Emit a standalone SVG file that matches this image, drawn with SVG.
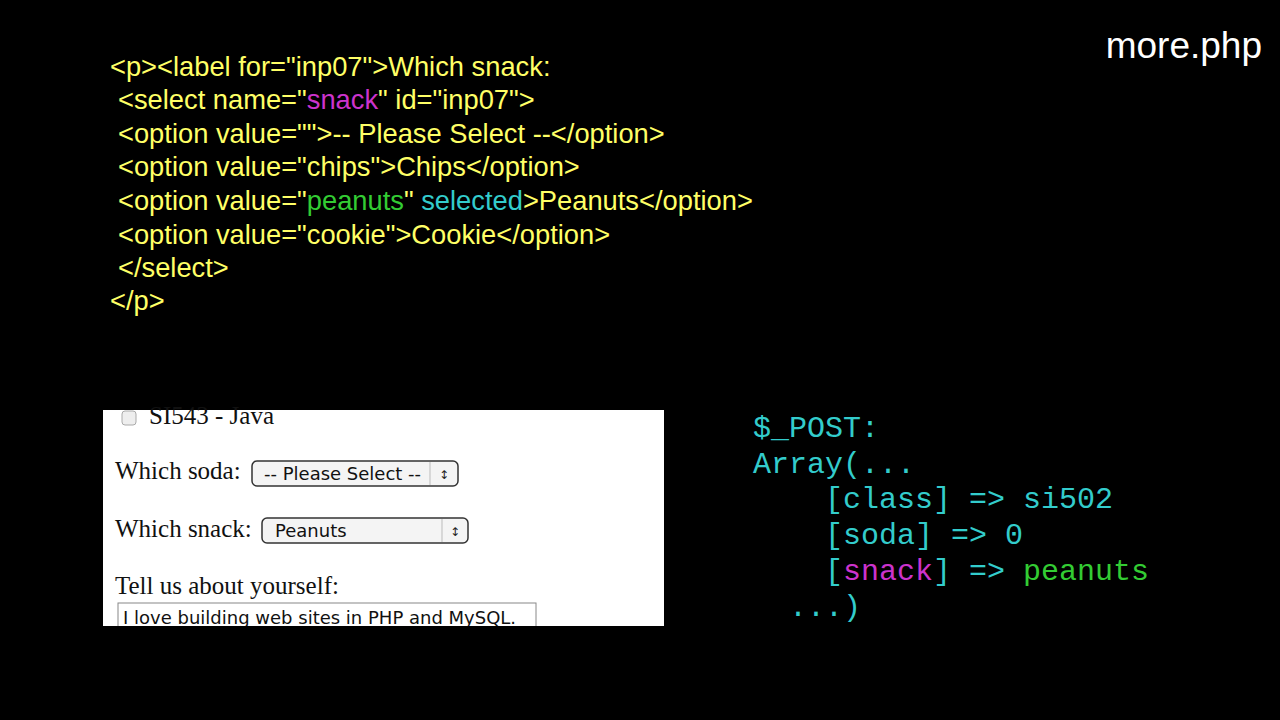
<svg xmlns="http://www.w3.org/2000/svg" width="1280" height="720" viewBox="0 0 1280 720">
<style>
.c{font-family:"Liberation Sans",Arial,sans-serif;font-size:27.3px;fill:#ffff66}
.m{fill:#cc33cc}.g{fill:#33cc33}.cy{fill:#33cccc}
.p{font-family:"Liberation Mono","Courier New",monospace;font-size:30px;fill:#33cccc}
.s{font-family:"Liberation Serif","Times New Roman",serif;font-size:25px;fill:#111}
.u{font-family:"DejaVu Sans","Liberation Sans",sans-serif;font-size:18px;fill:#111}
</style>
<rect width="1280" height="720" fill="#000"/>
<text x="1262" y="58" text-anchor="end" font-family="Liberation Sans,Arial,sans-serif" font-size="37" fill="#fff">more.php</text>
<g id="html">
<text class="c" x="110" y="76">&lt;p&gt;&lt;label for="inp07"&gt;Which snack:</text>
<text class="c" x="118" y="109">&lt;select name="<tspan class="m">snack</tspan>" id="inp07"&gt;</text>
<text class="c" x="118" y="143">&lt;option value=""&gt;-- Please Select --&lt;/option&gt;</text>
<text class="c" x="118" y="176">&lt;option value="chips"&gt;Chips&lt;/option&gt;</text>
<text class="c" x="118" y="210">&lt;option value="<tspan class="g">peanuts</tspan>" <tspan class="cy">selected</tspan>&gt;Peanuts&lt;/option&gt;</text>
<text class="c" x="118" y="244">&lt;option value="cookie"&gt;Cookie&lt;/option&gt;</text>
<text class="c" x="118" y="277">&lt;/select&gt;</text>
<text class="c" x="110" y="310">&lt;/p&gt;</text>
</g>
<g id="screenshot">
<rect x="103" y="410" width="561" height="216" fill="#fff"/>
<rect x="122" y="411" width="14" height="14" rx="3" fill="#eee" stroke="#aaa"/>
<text class="s" x="149" y="424">SI543 - Java</text>
<text class="s" x="115" y="479">Which soda:</text>
<rect x="252" y="461" width="206" height="25" rx="5" fill="#f4f4f4" stroke="#333" stroke-width="1.5"/>
<line x1="430" y1="462" x2="430" y2="485" stroke="#bbb"/>
<text class="u" x="264" y="480">-- Please Select --</text>
<text x="444" y="479" text-anchor="middle" font-family="DejaVu Sans,sans-serif" font-size="12" fill="#222">↕</text>
<text class="s" x="115" y="537">Which snack:</text>
<rect x="262" y="518" width="206" height="25" rx="5" fill="#f4f4f4" stroke="#333" stroke-width="1.5"/>
<line x1="442" y1="519" x2="442" y2="542" stroke="#bbb"/>
<text class="u" x="275" y="537">Peanuts</text>
<text x="455" y="536" text-anchor="middle" font-family="DejaVu Sans,sans-serif" font-size="12" fill="#222">↕</text>
<text class="s" x="115" y="594">Tell us about yourself:</text>
<rect x="118" y="603" width="418" height="30" fill="#fff" stroke="#888"/>
<text class="u" x="123" y="624">I love building web sites in PHP and MySQL.</text>
<rect x="0" y="626" width="700" height="20" fill="#000"/>
</g>
<g id="post">
<text class="p" x="753" y="437">$_POST:</text>
<text class="p" x="753" y="473">Array(...</text>
<text class="p" x="753" y="508" xml:space="preserve">    [class] =&gt; si502</text>
<text class="p" x="753" y="544" xml:space="preserve">    [soda] =&gt; 0</text>
<text class="p" x="753" y="580" xml:space="preserve">    [<tspan class="m">snack</tspan>] =&gt; <tspan class="g">peanuts</tspan></text>
<text class="p" x="753" y="616" xml:space="preserve">  ...)</text>
</g>
</svg>
